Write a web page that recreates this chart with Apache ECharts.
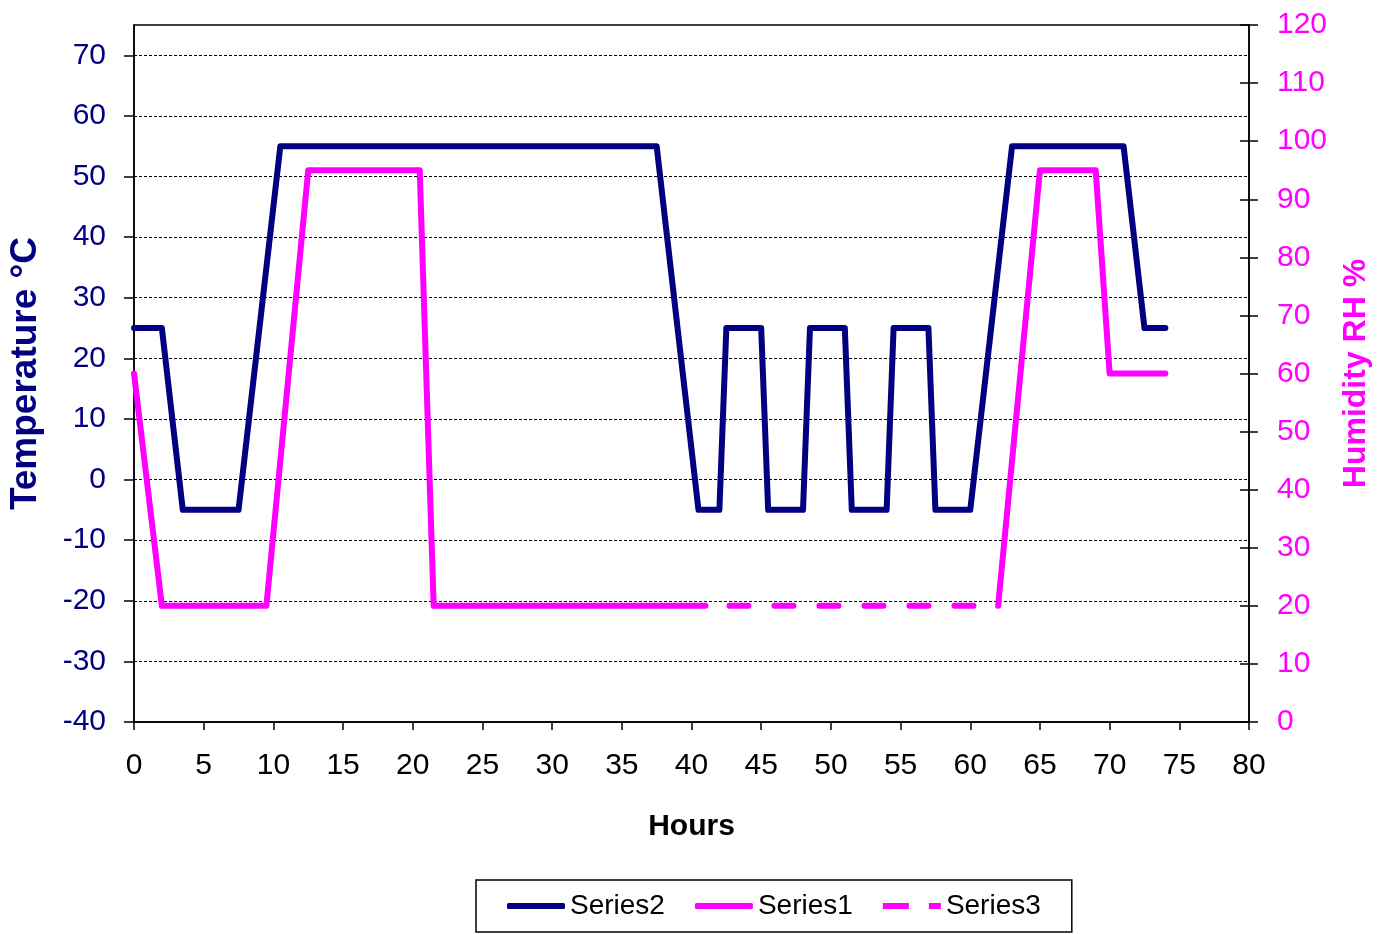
<!DOCTYPE html>
<html>
<head>
<meta charset="utf-8">
<script src="https://cdn.jsdelivr.net/npm/echarts@6/dist/echarts.min.js"></script>
<style>html,body{margin:0;padding:0;background:#fff}#c{width:1386px;height:934px}</style>
</head>
<body>
<div id="c"></div>
<script>
// Temperature (left axis) – Series2
const series2Hours = [0, 2, 3.5, 7.5, 10.5, 37.5, 40.5, 42, 42.5, 45, 45.5, 48, 48.5, 51, 51.5, 54, 54.5, 57, 57.5, 60, 63, 71, 72.5, 74];
const series2Temp  = [25, 25, -5, -5, 55, 55, -5, -5, 25, 25, -5, -5, 25, 25, -5, -5, 25, 25, -5, -5, 55, 55, 25, 25];
// Humidity (right axis) – Series1 (null = gap)
const series1Hours = [0, 2, 9.5, 12.5, 20.5, 21.5, 41, 51, 62, 65, 69, 70, 74];
const series1RH    = [60, 20, 20, 95, 95, 20, 20, null, 20, 95, 95, 60, 60];
// Humidity – Series3 (dashed)
const series3Hours = [41, 62];
const series3RH    = [20, 20];

const leftTicks = [-40, -30, -20, -10, 0, 10, 20, 30, 40, 50, 60, 70];

const NAVY = '#000080', MAG = '#FF00FF';
const FONT = 'Liberation Sans, Arial, sans-serif';

const zip = (a, b) => a.map((x, i) => [x, b[i]]);

const GRID = {left: 134, right: 137, top: 25, bottom: 212, containLabel: false, outerBoundsMode: 'none'};

const chart = echarts.init(document.getElementById('c'), null, {renderer: 'canvas'});
chart.setOption({
  animation: false,
  backgroundColor: '#fff',
  grid: [
    Object.assign({show: true, borderColor: '#000', borderWidth: 1.5, backgroundColor: 'transparent'}, GRID),
    Object.assign({show: false}, GRID)
  ],
  legend: {
    left: 476, top: 880,
    padding: [12, 31, 12, 31],
    borderColor: '#000', borderWidth: 1.5,
    itemWidth: 58, itemHeight: 6, itemGap: 30,
    textStyle: {fontFamily: FONT, fontSize: 28, color: '#000'},
    data: [
      {name: 'Series2', icon: 'roundRect', itemStyle: {color: NAVY, borderWidth: 0}},
      {name: 'Series1', icon: 'roundRect', itemStyle: {color: MAG, borderWidth: 0}},
      {name: 'Series3', icon: 'path://M0,0H26V6H0Z M46,0H58V6H46Z', itemStyle: {color: MAG, borderWidth: 0}}
    ]
  },
  xAxis: [
    {
      type: 'value', gridIndex: 0, min: 0, max: 80, interval: 5,
      name: 'Hours', nameLocation: 'middle', nameGap: 90,
      nameTextStyle: {fontFamily: FONT, fontSize: 30, fontWeight: 'bold', color: '#000'},
      axisLine: {onZero: false, lineStyle: {color: '#000', width: 1.5}},
      axisTick: {show: true, inside: false, length: 8, lineStyle: {color: '#000', width: 1.5}},
      axisLabel: {fontFamily: FONT, fontSize: 30, color: '#000', margin: 29},
      splitLine: {show: false}
    },
    {
      type: 'value', gridIndex: 1, min: 0, max: 80, show: false
    }
  ],
  yAxis: [
    {
      type: 'value', gridIndex: 0, position: 'left', min: -40, max: 75, interval: 10,
      name: 'Temperature \u00B0C', nameLocation: 'middle', nameGap: 90, nameRotate: 90,
      nameTextStyle: {fontFamily: FONT, fontSize: 37, fontWeight: 'bold', color: NAVY},
      axisLine: {show: true, onZero: false, lineStyle: {color: '#000', width: 1.5}},
      axisTick: {show: true, inside: false, length: 10, lineStyle: {color: '#000', width: 1.5}, customValues: leftTicks},
      axisLabel: {fontFamily: FONT, fontSize: 30, color: NAVY, margin: 28, customValues: leftTicks},
      splitLine: {show: true, lineStyle: {color: '#000', type: [3, 2], width: 1.2}}
    },
    {
      type: 'value', gridIndex: 0, position: 'right', min: 0, max: 120, interval: 10,
      name: 'Humidity RH %', nameLocation: 'middle', nameGap: 91, nameRotate: 90,
      nameTextStyle: {fontFamily: FONT, fontSize: 32, fontWeight: 'bold', color: MAG},
      axisLine: {show: true, onZero: false, lineStyle: {color: '#000', width: 1.5}},
      axisTick: {show: true, inside: false, length: 9, lineStyle: {color: '#000', width: 1.5}},
      axisLabel: {fontFamily: FONT, fontSize: 30, color: MAG, margin: 28},
      splitLine: {show: false}
    },
    {
      type: 'value', gridIndex: 1, position: 'right', min: 0, max: 120, interval: 10,
      axisLine: {show: false, onZero: false},
      axisTick: {show: true, inside: true, length: 9, lineStyle: {color: '#000', width: 1.5}},
      axisLabel: {show: false},
      splitLine: {show: false}
    }
  ],
  series: [
    {
      name: 'Series2', type: 'line', xAxisIndex: 0, yAxisIndex: 0, symbol: 'none',
      data: zip(series2Hours, series2Temp),
      lineStyle: {color: NAVY, width: 6, join: 'round', cap: 'round'},
      itemStyle: {color: NAVY}
    },
    {
      name: 'Series1', type: 'line', xAxisIndex: 0, yAxisIndex: 1, symbol: 'none', connectNulls: false,
      data: zip(series1Hours, series1RH),
      lineStyle: {color: MAG, width: 6, join: 'round', cap: 'round'},
      itemStyle: {color: MAG}
    },
    {
      name: 'Series3', type: 'line', xAxisIndex: 0, yAxisIndex: 1, symbol: 'none',
      data: zip(series3Hours, series3RH),
      lineStyle: {color: MAG, width: 6, type: [19, 26], dashOffset: 21, cap: 'round'},
      itemStyle: {color: MAG}
    }
  ]
});
</script>
</body>
</html>
